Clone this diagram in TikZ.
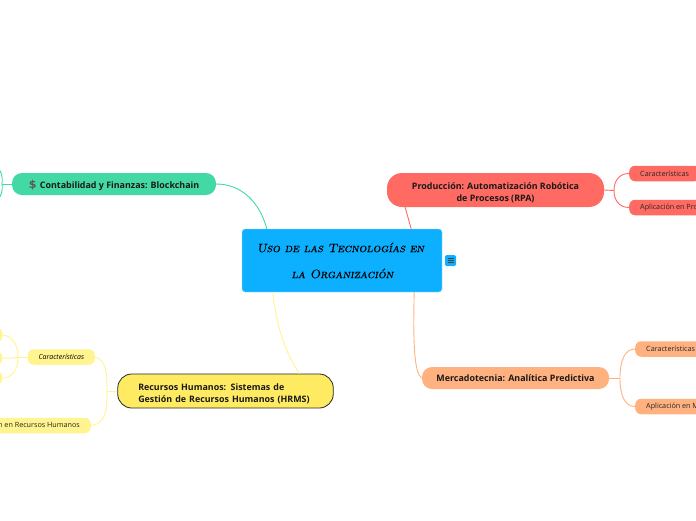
\documentclass[tikz,border=0pt]{standalone}
\usepackage{fontspec}
\setmainfont{Open Sans}
\newfontfamily\hand[FakeBold=0.6]{Latin Modern Roman Caps}
\newfontfamily\symb{DejaVu Sans}
\usetikzlibrary{calc}
\definecolor{cblue}{HTML}{0CB0FF}
\definecolor{cgreen}{HTML}{43D9A5}
\definecolor{cyel}{HTML}{FFEB62}
\definecolor{cyell}{HTML}{FFF48F}
\definecolor{cred}{HTML}{FF6B63}
\definecolor{corg}{HTML}{FFB27F}
\newcommand{\upstrut}{\rule{0pt}{12pt}}
\tikzset{
 x=1pt,y=-1pt,
 mainbox/.style={inner sep=0pt,rounded corners=#1,font=\fontsize{8.9}{12}\selectfont\bfseries,text=black!90,align=center},
 mainbox/.default=10pt,
 subbox/.style={fill=#1,rounded corners=6pt,minimum height=15.5pt,inner ysep=0pt,inner xsep=11pt,font=\fontsize{7.2}{8}\selectfont,text=black!85},
 link/.style={line width=0.9pt,draw=#1},
}
\begin{document}
\begin{tikzpicture}
\useasboundingbox (0,0) rectangle (696,520);
\clip (0,0) rectangle (696,520);
% centre
\node[fill=cblue,draw=cblue!35!white,line width=0.4pt,rounded corners=3pt,minimum width=200pt,minimum height=63pt,inner sep=0pt,align=center,
  font=\hand\slshape\fontsize{12.2}{26}\selectfont,text=black] (c) at (342,260.5) {\hspace*{-3pt}Uso de las Tecnologías en\\\hspace*{1pt}la Organización};
\node[fill=cblue,rounded corners=1.5pt,minimum width=11pt,minimum height=11pt,inner sep=0pt] (ic) at (450.5,260.5) {};
\foreach \d in {-2.2,0,2.2}{\draw[black!75,line width=0.7pt] ($(ic.center)+(-3,\d)$) -- ($(ic.center)+(3,\d)$);}
% branches
\node[mainbox=10pt,fill=cgreen,minimum width=204pt,minimum height=22pt] (g) at (114,184) {\upstrut{\symb\fontsize{11}{12}\selectfont\bfseries\textcolor{black!65}{\$}}\hspace*{3.5pt}Contabilidad y Finanzas: Blockchain};
\node[mainbox=14pt,fill=cyel,draw=black!85,line width=0.8pt,minimum height=34pt,inner xsep=20.5pt,text width=174.5pt,align=left] (y) at (225.5,391) {\upstrut Recursos Humanos: Sistemas de\\Gestión de Recursos Humanos (HRMS)};
\node[mainbox=15pt,fill=cred,minimum width=217pt,minimum height=34pt] (r) at (495.5,190) {\upstrut Producción: Automatización Robótica\\de Procesos (RPA)};
\node[mainbox=10pt,fill=corg,minimum width=187pt,minimum height=22pt] (o) at (515.5,378) {Mercadotecnia: Analítica Predictiva};
% green left stubs
\coordinate (gj) at (2,184);
\coordinate (ga) at (-2,168);
\coordinate (gb) at (-2,199);
% yellow children
\node[subbox=cyell,anchor=east,minimum width=67pt,inner xsep=0pt,font=\fontsize{7}{8}\selectfont\itshape,text=black] (yc) at (95,357) {Características};
\node[subbox=cyell,anchor=east] (ya) at (91,425.5) {Aplicación en Recursos Humanos};
\node[fill=cyell,rounded corners=5pt,anchor=east,minimum width=30pt,minimum height=14pt,inner sep=0pt] (y1) at (2.5,335) {};
\node[fill=cyell,rounded corners=5pt,anchor=east,minimum width=30pt,minimum height=13pt,inner sep=0pt] (y2) at (2.5,358) {};
\node[fill=cyell,rounded corners=5pt,anchor=east,minimum width=30pt,minimum height=13pt,inner sep=0pt] (y3) at (2.5,378) {};
\coordinate (yj) at (107,391);
\coordinate (ycj) at (18,357);
% red children
\node[subbox=cred,anchor=west] (r1) at (629,173.5) {Características};
\node[subbox=cred,anchor=west] (r2) at (629,207.5) {Aplicación en Producción};
\coordinate (rj) at (614,190.5);
% orange children
\node[subbox=corg,anchor=west] (o1) at (635,349) {Características};
\node[subbox=corg,anchor=west] (o2) at (635,406.5) {Aplicación en Mercadotecnia};
\coordinate (oj) at (620,378);
% connectors
\draw[link=cgreen] (g.east) .. controls (242,184) and (260,203) .. ($(c.north west)+(25,0)$);
\draw[link=cyell] ($(c.south west)+(31,0)$) .. controls (276,325) and (285,352) .. ($(y.north west)+(182,0)$);
\draw[link=cred] ($(r.south west)+(18,-1)$) .. controls (407,214) and (409,221) .. ($(c.north east)+(-31,0)$);
\draw[link=corg] ($(c.south east)+(-28,0)$) .. controls (413,340) and (414,374) .. (o.west);
% green
\draw[link=cgreen] (g.west) -- (gj);
\draw[link=cgreen] (gj) .. controls (3,176) and (1,171) .. (ga);
\draw[link=cgreen] (gj) .. controls (3,192) and (1,196) .. (gb);
% yellow
\draw[link=cyell] (y.west) -- (yj);
\draw[link=cyell] (yj) .. controls (107,372) and (106,360) .. (yc.east);
\draw[link=cyell] (yj) .. controls (107,410) and (106,424) .. (ya.east);
\draw[link=cyell] (yc.west) -- (ycj);
\draw[link=cyell] (ycj) .. controls (18,344) and (12,336) .. (y1.east);
\draw[link=cyell] (ycj) .. controls (14,358) and (8,358.5) .. (y2.east);
\draw[link=cyell] (ycj) .. controls (18,370) and (12,378) .. (y3.east);
% red
\draw[link=cred] (r.east) -- (rj);
\draw[link=cred] (rj) .. controls (614,181) and (619,173.5) .. (r1.west);
\draw[link=cred] (rj) .. controls (614,200) and (619,207.5) .. (r2.west);
% orange
\draw[link=corg] (o.east) -- (oj);
\draw[link=corg] (oj) .. controls (620,360) and (625,349) .. (o1.west);
\draw[link=corg] (oj) .. controls (620,396) and (625,406.5) .. (o2.west);
\end{tikzpicture}
\end{document}
